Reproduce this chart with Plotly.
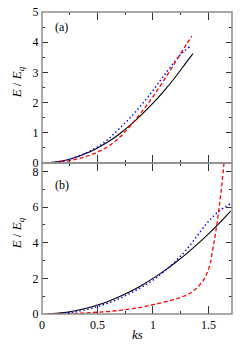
import plotly.graph_objects as go

# Panel (a)
ks_a_black = [0.05, 0.1, 0.2, 0.3, 0.4, 0.5, 0.6, 0.7, 0.8, 0.9, 1.0, 1.1, 1.2, 1.3, 1.36]
E_a_black = [0.005, 0.02, 0.08, 0.18, 0.32, 0.5, 0.71, 0.97, 1.27, 1.61, 1.98, 2.39, 2.84, 3.33, 3.62]
ks_a_red = [0.05, 0.1, 0.2, 0.3, 0.4, 0.5, 0.6, 0.7, 0.8, 0.9, 1.0, 1.1, 1.2, 1.3, 1.35]
E_a_red = [0.002, 0.01, 0.05, 0.12, 0.22, 0.36, 0.56, 0.85, 1.25, 1.7, 2.2, 2.75, 3.33, 3.92, 4.2]
ks_a_blue = [0.05, 0.1, 0.2, 0.3, 0.4, 0.5, 0.6, 0.7, 0.8, 0.9, 1.0, 1.1, 1.2, 1.25, 1.33]
E_a_blue = [0.005, 0.02, 0.08, 0.19, 0.34, 0.53, 0.8, 1.15, 1.52, 1.94, 2.4, 2.9, 3.38, 3.6, 3.85]

# Panel (b)
ks_b = [0.05, 0.1, 0.2, 0.3, 0.4, 0.5, 0.6, 0.7, 0.8, 0.9, 1.0, 1.1, 1.2, 1.3, 1.4, 1.5, 1.6, 1.7]
E_b_black = [0.005, 0.02, 0.08, 0.18, 0.32, 0.5, 0.72, 0.98, 1.28, 1.62, 2.0, 2.42, 2.88, 3.38, 3.92, 4.5, 5.12, 5.78]
E_b_blue = [0.005, 0.01, 0.05, 0.12, 0.25, 0.42, 0.62, 0.88, 1.18, 1.52, 1.9, 2.38, 2.95, 3.6, 4.4, 5.2, 5.8, 6.2]
ks_b_red = [0.05, 0.1, 0.2, 0.3, 0.4, 0.5, 0.6, 0.7, 0.8, 0.9, 1.0, 1.1, 1.2, 1.3, 1.35, 1.4, 1.45,
            1.48, 1.5, 1.52, 1.54, 1.56, 1.58, 1.6, 1.62, 1.64, 1.66]
E_b_red = [0.0, 0.002, 0.01, 0.03, 0.06, 0.09, 0.14, 0.2, 0.28, 0.38, 0.52, 0.65, 0.82, 1.05, 1.22, 1.48, 1.85,
           2.2, 2.5, 2.95, 3.6, 4.4, 5.2, 6.1, 7.2, 8.5, 9.9]

x_ticks = [0, 0.5, 1, 1.5]
x_tick_labels = ["0", "0.5", "1", "1.5"]
ya_ticks = [0, 1, 2, 3, 4, 5]
yb_ticks = [0, 2, 4, 6, 8]

FONT = "Liberation Serif, DejaVu Serif, serif"
BLACK = "#000000"
RED = "#ff0000"
BLUE = "#0000ff"
FRAME = "#8c8c8c"
TICK = "#333333"

fig = go.Figure()

def add(x, y, color, dash, width, xa, ya, shape):
    fig.add_trace(go.Scatter(x=x, y=y, mode="lines", line=dict(color=color, dash=dash, width=width, shape=shape),
                             xaxis=xa, yaxis=ya, showlegend=False, hoverinfo="skip"))

add(ks_a_black, E_a_black, BLACK, "solid", 1.1, "x", "y", "spline")
add(ks_a_blue, E_a_blue, BLUE, "1.5px,2.5px", 1.4, "x", "y", "spline")
add(ks_a_red, E_a_red, RED, "4px,2.5px", 1.3, "x", "y", "spline")

add(ks_b, E_b_black, BLACK, "solid", 1.1, "x2", "y2", "spline")
add(ks_b, E_b_blue, BLUE, "1.5px,2.5px", 1.4, "x2", "y2", "spline")
add(ks_b_red, E_b_red, RED, "4px,2.5px", 1.3, "x2", "y2", "linear")

def axis_common():
    return dict(showline=True, linecolor="rgba(0,0,0,0)", linewidth=1, mirror="ticks",
                ticks="inside", tickcolor=TICK, tickwidth=1, automargin=False,
                showgrid=False, zeroline=False,
                tickfont=dict(family=FONT, size=12, color="#000"))

TF = dict(family=FONT, size=13, color="#000")
xr = [0, 1.712]
fig.update_layout(
    width=240, height=346,
    margin=dict(l=42, r=8, t=12, b=32, autoexpand=False),
    paper_bgcolor="white", plot_bgcolor="white",
    xaxis=dict(domain=[0, 1], anchor="y", range=xr, tickvals=x_ticks, showticklabels=False, ticklen=8,
               minor=dict(ticks="inside", dtick=0.25, ticklen=3, tickcolor=TICK, showgrid=False),
               **axis_common()),
    yaxis=dict(domain=[0.5, 1], anchor="x", range=[0, 5], tickvals=ya_ticks, ticklen=6,
               minor=dict(ticks="inside", dtick=0.5, ticklen=3, tickcolor=TICK, showgrid=False),
               **axis_common()),
    xaxis2=dict(domain=[0, 1], anchor="y2", range=xr, tickvals=x_ticks, ticktext=x_tick_labels, ticklen=8,
                minor=dict(ticks="inside", dtick=0.25, ticklen=3, tickcolor=TICK, showgrid=False),
                **axis_common()),
    yaxis2=dict(domain=[0, 0.5], anchor="x2", range=[0, 8.48], tickvals=yb_ticks, ticklen=6,
                minor=dict(ticks="inside", dtick=1, ticklen=3, tickcolor=TICK, showgrid=False),
                **axis_common()),
    shapes=[
        dict(type="rect", xref="x domain", yref="y domain", x0=0, x1=1, y0=0, y1=1,
             line=dict(color=FRAME, width=1.5), layer="above"),
        dict(type="rect", xref="x2 domain", yref="y2 domain", x0=0, x1=1, y0=0, y1=1,
             line=dict(color=FRAME, width=1.5), layer="above"),
    ],
    annotations=[
        dict(text="(a)", xref="x domain", yref="y domain", x=0.06, y=0.9, xanchor="left", yanchor="middle",
             showarrow=False, font=dict(family=FONT, size=12, color="#000")),
        dict(text="(b)", xref="x2 domain", yref="y2 domain", x=0.06, y=0.855, xanchor="left", yanchor="middle",
             showarrow=False, font=dict(family=FONT, size=12, color="#000")),
        dict(text="<i>E</i> / <i>E</i><sub><i>q</i></sub>", xref="paper", yref="paper", x=-0.13, y=0.768,
             textangle=-90, xanchor="center", yanchor="middle", showarrow=False, font=TF),
        dict(text="<i>E</i> / <i>E</i><sub><i>q</i></sub>", xref="paper", yref="paper", x=-0.13, y=0.268,
             textangle=-90, xanchor="center", yanchor="middle", showarrow=False, font=TF),
        dict(text="<i>ks</i>", xref="paper", yref="paper", x=0.5, y=-0.0695,
             xanchor="center", yanchor="middle", showarrow=False, font=TF),
    ],
)

fig.write_html("out.html", config={"displayModeBar": False},
               post_script="document.body.style.margin='0px';document.body.style.overflow='hidden';")
